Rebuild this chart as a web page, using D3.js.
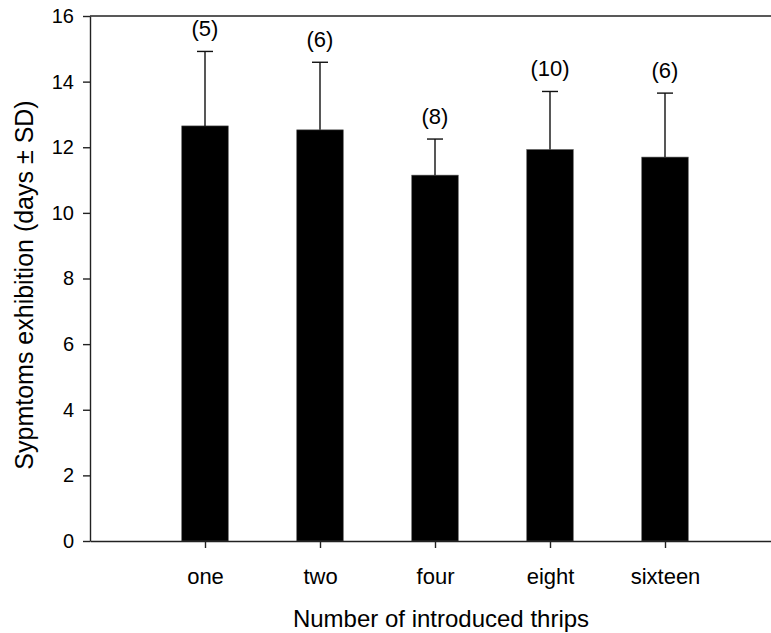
<!DOCTYPE html>
<html lang="en">
<head>
<meta charset="utf-8">
<title>Symptoms exhibition by number of thrips</title>
<style>
   html,body { margin:0; padding:0; background:white; }
   svg text { font-family:"Liberation Sans", Arial, sans-serif; fill:black; }
</style>
<script src="https://d3js.org/d3.v7.min.js"></script>
</head>
<body>
<script>
// data
let categories = ['one','two','four','eight','sixteen'];
let means = [12.65, 12.53, 11.15, 11.93, 11.70];
let sds = [2.27, 2.06, 1.10, 1.77, 1.95];
let ns = [5, 6, 8, 10, 6];
let yticks = [0,2,4,6,8,10,12,14,16];

let width = 771, height = 633;
let margin = {top:16, right:-9, bottom:92, left:90};

let data = categories.map((c,i) => ({cat:c, pos:i+1, mean:means[i], sd:sds[i], n:ns[i]}));

let x = d3.scaleLinear()
   .domain([0, 6])
   .range([margin.left, width - margin.right]);
let y = d3.scaleLinear()
   .domain([0, 16])
   .range([height - margin.bottom, margin.top]);
let barw = 46.5;

const svg = d3.select('body').append('svg')
   .attr('width', width)
   .attr('height', height);

// bars
svg.append('g')
   .selectAll('rect')
   .data(data)
   .join('rect')
   .attr('x', d => x(d.pos) - barw/2)
   .attr('y', d => y(d.mean))
   .attr('width', barw)
   .attr('height', d => y(0) - y(d.mean))
   .attr('fill', 'black')
   .attr('stroke', '#555')
   .attr('stroke-width', 0.6);

// upper error bars
let eb = svg.append('g').attr('stroke', '#111').attr('stroke-width', 1.4);
eb.selectAll('line.v')
   .data(data)
   .join('line')
   .attr('class','v')
   .attr('x1', d => x(d.pos)).attr('x2', d => x(d.pos))
   .attr('y1', d => y(d.mean)).attr('y2', d => y(d.mean + d.sd));
eb.selectAll('line.c')
   .data(data)
   .join('line')
   .attr('class','c')
   .attr('x1', d => x(d.pos) - 8).attr('x2', d => x(d.pos) + 8)
   .attr('y1', d => y(d.mean + d.sd)).attr('y2', d => y(d.mean + d.sd));

// n labels above the caps
svg.append('g')
   .selectAll('text')
   .data(data)
   .join('text')
   .attr('x', d => x(d.pos))
   .attr('y', d => y(d.mean + d.sd) - 15)
   .attr('text-anchor', 'middle')
   .style('font-size', '22px')
   .text(d => '('+d.n+')');

// axes
let yAxis = svg.append('g')
   .attr('transform', `translate(${margin.left},0)`)
   .call(d3.axisLeft(y).tickValues(yticks).tickSize(7).tickPadding(9).tickSizeOuter(0));
let xAxis = svg.append('g')
   .attr('transform', `translate(0,${y(0)})`)
   .call(d3.axisBottom(x).tickValues(data.map(d => d.pos)).tickFormat((d,i) => categories[i]).tickSize(7).tickPadding(20).tickSizeOuter(0));
[yAxis, xAxis].forEach(g => {
   g.selectAll('path,line').attr('stroke', '#222').attr('stroke-width', 1.4);
   g.selectAll('text').attr('fill', 'black');
});
yAxis.selectAll('text').style('font-size', '20px');
xAxis.selectAll('text').style('font-size', '22px');

// top frame line
svg.append('line')
   .attr('x1', margin.left).attr('x2', width)
   .attr('y1', y(16)).attr('y2', y(16))
   .attr('stroke', '#222').attr('stroke-width', 1.4);

// axis titles
svg.append('text')
   .attr('x', 441)
   .attr('y', 627)
   .attr('text-anchor', 'middle')
   .style('font-size', '24px')
   .text('Number of introduced thrips');
svg.append('text')
   .attr('transform', 'translate(33,285) rotate(-90)')
   .attr('text-anchor', 'middle')
   .style('font-size', '25px')
   .text('Sypmtoms exhibition (days \u00b1 SD)');
</script>
</body>
</html>
